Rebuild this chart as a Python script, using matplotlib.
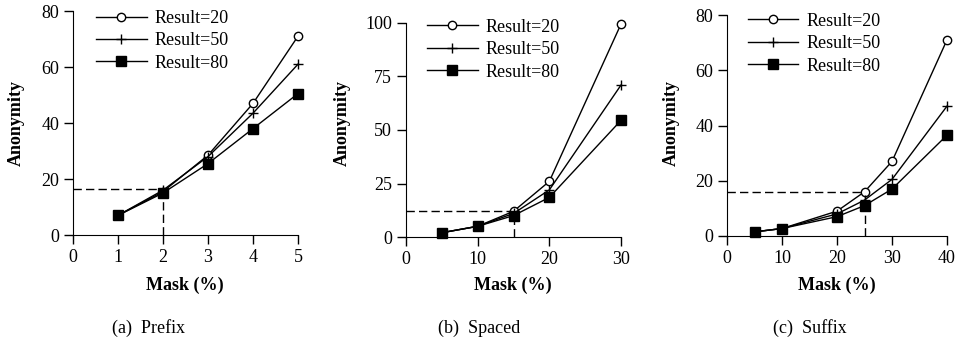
import matplotlib
matplotlib.use("Agg")
import matplotlib.pyplot as plt

plt.rcParams['font.family'] = ['Liberation Serif', 'DejaVu Serif']
plt.rcParams['mathtext.fontset'] = 'stix'

# Data
labels = ["Result=20", "Result=50", "Result=80"]

prefix_x = [1, 2, 3, 4, 5]
prefix_r20 = [7, 15.5, 28.5, 47, 71]
prefix_r50 = [7, 16, 28, 43.5, 61]
prefix_r80 = [7, 15, 25.5, 38, 50.5]
prefix_ref = (2, 16.3)

spaced_x = [5, 10, 15, 20, 30]
spaced_r20 = [2, 5, 12, 26, 99.5]
spaced_r50 = [2, 5, 11, 22, 71]
spaced_r80 = [2, 5, 10, 18.5, 54.5]
spaced_ref = (15, 12)

suffix_x = [5, 10, 20, 25, 30, 40]
suffix_r20 = [1.5, 2.7, 9, 16, 27, 71]
suffix_r50 = [1.5, 2.7, 8, 13, 20.5, 47]
suffix_r80 = [1.5, 2.7, 7, 11, 17, 36.5]
suffix_ref = (25, 16)

captions = ["(a)  Prefix", "(b)  Spaced", "(c)  Suffix"]

panels = [
    dict(x=prefix_x, ys=[prefix_r20, prefix_r50, prefix_r80], ref=prefix_ref,
         xlim=(0, 5), xticks=[0, 1, 2, 3, 4, 5], ylim=(0, 80), yticks=[0, 20, 40, 60, 80],
         rect=[73/958, 1-235/337, 225/958, 224/337], leg=(0.102, 1.005),
         cap_x=148/958, xl_x=185/958, yl_x=16/958),
    dict(x=spaced_x, ys=[spaced_r20, spaced_r50, spaced_r80], ref=spaced_ref,
         xlim=(0, 30), xticks=[0, 10, 20, 30], ylim=(0, 100), yticks=[0, 25, 50, 75, 100],
         rect=[406/958, 1-237/337, 215/958, 214/337], leg=(0.098, 1.02),
         cap_x=479/958, xl_x=513/958, yl_x=342/958),
    dict(x=suffix_x, ys=[suffix_r20, suffix_r50, suffix_r80], ref=suffix_ref,
         xlim=(0, 40), xticks=[0, 10, 20, 30, 40], ylim=(0, 80), yticks=[0, 20, 40, 60, 80],
         rect=[727/958, 1-236/337, 220/958, 221/337], leg=(0.095, 1.01),
         cap_x=810/958, xl_x=837/958, yl_x=671/958),
]

styles = [
    dict(marker='o', markersize=6, markerfacecolor='white', markeredgecolor='black', markeredgewidth=1.0),
    dict(marker='+', markersize=7, markeredgecolor='black', markeredgewidth=1.0),
    dict(marker='s', markersize=7, markerfacecolor='black', markeredgecolor='black'),
]

fig = plt.figure(figsize=(9.58, 3.37), dpi=100)
FS = 13

for i, p in enumerate(panels):
    ax = fig.add_axes(p['rect'])
    for ys, lab, st in zip(p['ys'], labels, styles):
        ax.plot(p['x'], ys, color='black', linewidth=1.0, label=lab, clip_on=False, zorder=3, **st)
    rx, ry = p['ref']
    ax.plot([p['xlim'][0], rx], [ry, ry], color='black', linewidth=1.0, linestyle=(0, (6, 3)), zorder=2)
    ax.plot([rx, rx], [0, ry], color='black', linewidth=1.0, linestyle=(0, (6, 3)), zorder=2)
    ax.set_xlim(*p['xlim'])
    ax.set_ylim(*p['ylim'])
    ax.set_xticks(p['xticks'])
    ax.set_yticks(p['yticks'])
    ax.spines['top'].set_visible(False)
    ax.spines['right'].set_visible(False)
    ax.tick_params(direction='out', length=6.5, width=1.0, labelsize=FS, pad=3.5)
    ax.legend(loc='upper left', bbox_to_anchor=p['leg'], frameon=False, fontsize=FS,
              handlelength=2.8, handletextpad=0.45, labelspacing=0.3, borderpad=0,
              borderaxespad=0)
    fig.text(p['xl_x'], 1-285/337, "Mask (%)", ha='center', va='center', fontsize=FS, fontweight='bold')
    fig.text(p['yl_x'], 1-123/337, "Anonymity", ha='center', va='center', fontsize=FS,
             fontweight='bold', rotation=90)
    fig.text(p['cap_x'], 1-328/337, captions[i], ha='center', va='center', fontsize=13)

fig.savefig("out.png", dpi=100)
